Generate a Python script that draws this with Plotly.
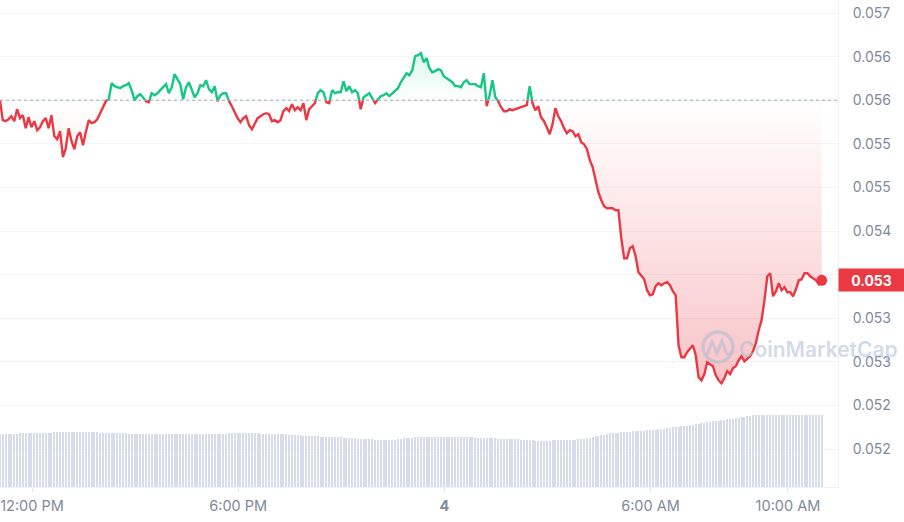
import pandas as pd
import plotly.graph_objects as go

# ---------------- data ----------------
START = "2024-06-03 11:04"
STEP = "5min"

price = [
    0.056000, 0.055771, 0.055759, 0.055782, 0.055816, 0.055759, 0.055897, 0.055794, 0.055828, 0.055679, 0.055805, 0.055690,
    0.055759, 0.055656, 0.055690, 0.055759, 0.055794, 0.055679, 0.055828, 0.055587, 0.055553, 0.055644, 0.055346, 0.055449,
    0.055679, 0.055530, 0.055438, 0.055587, 0.055633, 0.055484, 0.055633, 0.055771, 0.055736, 0.055748, 0.055782, 0.055851,
    0.055931, 0.055989, 0.056011, 0.056195, 0.056161, 0.056149, 0.056138, 0.056161, 0.056172, 0.056195, 0.056115, 0.056000,
    0.056046, 0.056069, 0.056034, 0.055989, 0.055977, 0.056080, 0.056057, 0.056080, 0.056115, 0.056149, 0.056184, 0.056080,
    0.056149, 0.056298, 0.056241, 0.056184, 0.056011, 0.056149, 0.056206, 0.056115, 0.056034, 0.056080, 0.056172, 0.056161,
    0.056229, 0.056126, 0.056092, 0.056161, 0.055989, 0.056057, 0.056080, 0.056080, 0.055989, 0.055931, 0.055862, 0.055794,
    0.055748, 0.055794, 0.055816, 0.055713, 0.055667, 0.055736, 0.055794, 0.055816, 0.055839, 0.055851, 0.055839, 0.055759,
    0.055771, 0.055748, 0.055771, 0.055874, 0.055908, 0.055874, 0.055954, 0.055885, 0.055920, 0.055885, 0.055966, 0.055771,
    0.055897, 0.055931, 0.055966, 0.056080, 0.056115, 0.056092, 0.055977, 0.055966, 0.056115, 0.056080, 0.056092, 0.056092,
    0.056218, 0.056103, 0.056161, 0.056092, 0.056115, 0.056080, 0.055897, 0.056034, 0.056057, 0.056080, 0.056023, 0.055966,
    0.056011, 0.056046, 0.056057, 0.056080, 0.056046, 0.056080, 0.056103, 0.056138, 0.056206, 0.056264, 0.056310, 0.056287,
    0.056344, 0.056505, 0.056516, 0.056539, 0.056436, 0.056482, 0.056367, 0.056321, 0.056333, 0.056356, 0.056344, 0.056275,
    0.056252, 0.056229, 0.056206, 0.056161, 0.056161, 0.056149, 0.056206, 0.056229, 0.056184, 0.056184, 0.056184, 0.056161,
    0.056149, 0.056310, 0.055931, 0.056057, 0.056229, 0.056034, 0.055989, 0.055920, 0.055874, 0.055874, 0.055897, 0.055885,
    0.055897, 0.055908, 0.055920, 0.055931, 0.055943, 0.056161, 0.055966, 0.055885, 0.055931, 0.055805, 0.055759, 0.055690,
    0.055610, 0.055725, 0.055908, 0.055816, 0.055759, 0.055679, 0.055621, 0.055656, 0.055644, 0.055587, 0.055610, 0.055518,
    0.055495, 0.055438, 0.055312, 0.055232, 0.055105, 0.054945, 0.054853, 0.054784, 0.054761, 0.054761, 0.054761, 0.054738,
    0.054738, 0.054417, 0.054188, 0.054188, 0.054302, 0.054325, 0.054211, 0.054027, 0.053993, 0.053947, 0.053821, 0.053763,
    0.053775, 0.053867, 0.053901, 0.053878, 0.053901, 0.053913, 0.053878, 0.053809, 0.053763, 0.053190, 0.053052, 0.053052,
    0.053110, 0.053155, 0.053190, 0.053075, 0.052823, 0.052788, 0.052857, 0.052995, 0.052972, 0.052949, 0.052846, 0.052788,
    0.052754, 0.052811, 0.052892, 0.052857, 0.052926, 0.052949, 0.053018, 0.053064, 0.053006, 0.053041, 0.053064, 0.053121,
    0.053213, 0.053362, 0.053477, 0.053706, 0.053981, 0.054016, 0.053752, 0.053809, 0.053901, 0.053821, 0.053855, 0.053798,
    0.053798, 0.053752, 0.053832, 0.053935, 0.053947, 0.054016, 0.054016, 0.053981, 0.053958, 0.053935, 0.053890, 0.053935,
]

# 24h volume (millions)
volume_m = [
    5.30, 5.30, 5.31, 5.32, 5.33, 5.34, 5.35, 5.36, 5.36, 5.37, 5.38, 5.38,
    5.40, 5.40, 5.41, 5.42, 5.43, 5.44, 5.45, 5.46, 5.48, 5.49, 5.50, 5.50,
    5.50, 5.50, 5.49, 5.49, 5.48, 5.48, 5.47, 5.47, 5.46, 5.46, 5.46, 5.45,
    5.45, 5.45, 5.45, 5.44, 5.44, 5.42, 5.40, 5.38, 5.36, 5.34, 5.32, 5.30,
    5.30, 5.30, 5.30, 5.30, 5.30, 5.30, 5.30, 5.30, 5.30, 5.30, 5.30, 5.30,
    5.30, 5.30, 5.30, 5.30, 5.30, 5.30, 5.30, 5.30, 5.30, 5.30, 5.30, 5.30,
    5.30, 5.30, 5.30, 5.30, 5.30, 5.30, 5.32, 5.35, 5.38, 5.40, 5.40, 5.40,
    5.40, 5.40, 5.40, 5.39, 5.38, 5.37, 5.36, 5.35, 5.34, 5.33, 5.32, 5.31,
    5.30, 5.30, 5.30, 5.28, 5.26, 5.24, 5.22, 5.20, 5.18, 5.16, 5.15, 5.14,
    5.12, 5.10, 5.08, 5.06, 5.05, 5.04, 5.03, 5.02, 5.00, 5.00, 4.98, 4.96,
    4.94, 4.92, 4.90, 4.88, 4.86, 4.84, 4.82, 4.80, 4.78, 4.77, 4.76, 4.74,
    4.72, 4.72, 4.70, 4.70, 4.70, 4.72, 4.75, 4.80, 4.85, 4.88, 4.90, 4.92,
    4.94, 4.96, 4.98, 5.00, 5.02, 5.04, 5.05, 5.05, 5.05, 5.05, 5.05, 5.05,
    5.05, 5.05, 5.05, 5.05, 5.04, 5.03, 5.02, 5.00, 4.98, 4.96, 4.94, 4.92,
    4.90, 4.90, 4.89, 4.88, 4.87, 4.86, 4.85, 4.84, 4.83, 4.83, 4.82, 4.80,
    4.78, 4.76, 4.74, 4.72, 4.70, 4.68, 4.66, 4.65, 4.65, 4.65, 4.65, 4.65,
    4.65, 4.66, 4.67, 4.68, 4.68, 4.69, 4.70, 4.70, 4.72, 4.74, 4.76, 4.78,
    4.82, 4.88, 4.94, 5.00, 5.06, 5.12, 5.18, 5.24, 5.30, 5.36, 5.42, 5.45,
    5.45, 5.47, 5.50, 5.52, 5.55, 5.57, 5.60, 5.60, 5.62, 5.65, 5.68, 5.70,
    5.72, 5.75, 5.78, 5.80, 5.85, 5.90, 5.95, 6.00, 6.02, 6.05, 6.08, 6.10,
    6.15, 6.20, 6.25, 6.30, 6.35, 6.40, 6.45, 6.50, 6.55, 6.60, 6.62, 6.65,
    6.68, 6.72, 6.76, 6.80, 6.85, 6.90, 6.95, 7.00, 7.05, 7.10, 7.15, 7.18,
    7.20, 7.22, 7.23, 7.23, 7.23, 7.23, 7.23, 7.23, 7.23, 7.23, 7.23, 7.23,
    7.23, 7.23, 7.23, 7.22, 7.22, 7.22, 7.22, 7.22, 7.22, 7.22, 7.22, 7.22,
]

y_tick_vals = [0.057, 0.0565, 0.056, 0.0555, 0.055, 0.0545, 0.054, 0.0535, 0.053, 0.0525, 0.052]
y_tick_text = ["0.057", "0.056", "0.056", "0.055", "0.055", "0.054", "", "0.053", "0.053", "0.052", "0.052"]
x_tick_vals = ["2024-06-03 12:00", "2024-06-03 18:00", "2024-06-04 00:00", "2024-06-04 06:00", "2024-06-04 10:00"]
x_tick_text = ["12:00 PM", "6:00 PM", "<b>4</b>", "6:00 AM", "10:00 AM"]
last_label = "0.053"

# ---------------- styling ----------------
GREEN = "#16C784"
RED = "#EA3943"
GREY = "#808A9D"
FONT = "Inter"

times = pd.date_range(START, periods=len(price), freq=STEP)
base = price[0]

# insert baseline crossing points so the line can switch colour exactly at the baseline
tn = times.asi8
aug_t, aug_p = [], []
for i in range(len(price)):
    if i > 0:
        p0, p1 = price[i - 1], price[i]
        if (p0 - base) * (p1 - base) < 0:
            f = (base - p0) / (p1 - p0)
            aug_t.append(pd.Timestamp(int(tn[i - 1] + f * (tn[i] - tn[i - 1]))))
            aug_p.append(base)
    aug_t.append(times[i])
    aug_p.append(price[i])

above = [max(p, base) for p in aug_p]
below = [min(p, base) for p in aug_p]
green_line = [p if p >= base else None for p in aug_p]
red_line = [p if p <= base else None for p in aug_p]
base_line = [base] * len(aug_p)

fig = go.Figure()

# volume bars
fig.add_trace(go.Bar(
    x=times, y=volume_m, yaxis="y2",
    marker=dict(color="#d7dcea", line=dict(width=0)),
    width=5 * 60 * 1000 * 0.36, hoverinfo="skip",
))

# gradient fills
fig.add_trace(go.Scatter(x=aug_t, y=base_line, mode="lines", line=dict(width=0), hoverinfo="skip"))
fig.add_trace(go.Scatter(
    x=aug_t, y=above, mode="lines", line=dict(width=0), fill="tonexty", hoverinfo="skip",
    fillgradient=dict(type="vertical", start=base, stop=max(price),
                      colorscale=[[0, "rgba(22,199,132,0.0)"], [1, "rgba(22,199,132,0.16)"]]),
))
fig.add_trace(go.Scatter(x=aug_t, y=base_line, mode="lines", line=dict(width=0), hoverinfo="skip"))
fig.add_trace(go.Scatter(
    x=aug_t, y=below, mode="lines", line=dict(width=0), fill="tonexty", hoverinfo="skip",
    fillgradient=dict(type="vertical", start=min(price), stop=base,
                      colorscale=[[0, "rgba(234,57,67,0.30)"], [1, "rgba(234,57,67,0.0)"]]),
))

# price line
fig.add_trace(go.Scatter(x=aug_t, y=green_line, mode="lines", line=dict(color=GREEN, width=2.4),
                         connectgaps=False, hoverinfo="skip"))
fig.add_trace(go.Scatter(x=aug_t, y=red_line, mode="lines", line=dict(color=RED, width=2.4),
                         connectgaps=False, hoverinfo="skip"))
fig.add_trace(go.Scatter(x=[times[-1]], y=[price[-1]], mode="markers",
                         marker=dict(color=RED, size=11), hoverinfo="skip"))

# dotted open-price baseline
fig.add_shape(type="line", xref="paper", x0=0, x1=1, yref="y", y0=base, y1=base,
              line=dict(color="#a3a9b5", width=1, dash="dot"))

# watermark
W = 838.0
H = 487.0
def px(x):
    return x / W
def py(y):
    return 1 - y / H
WM = "rgba(172,188,212,0.55)"
fig.add_shape(type="circle", xref="paper", yref="paper",
              x0=px(703), x1=px(733), y0=py(362), y1=py(332),
              line=dict(color=WM, width=3.5))
path = "M {} {} L {} {} L {} {} L {} {} L {} {} Q {} {} {} {}".format(
    px(707), py(355), px(712), py(342), px(717), py(353), px(722), py(341),
    px(726), py(352), px(728), py(357), px(732), py(351))
fig.add_shape(type="path", xref="paper", yref="paper", path=path, line=dict(color=WM, width=3))
fig.add_annotation(xref="paper", yref="paper", x=px(737), y=py(349), xanchor="left", yanchor="middle",
                   text="CoinMarketCap", showarrow=False,
                   font=dict(family=FONT, size=21, color=WM, weight=600))

# last price label
fig.add_annotation(xref="paper", yref="y", x=1.0, y=price[-1], xanchor="left", yanchor="middle",
                   text="<b>" + last_label + "</b>", showarrow=False, bgcolor=RED,
                   width=61, height=18, borderpad=2, align="center",
                   font=dict(family=FONT, size=14, color="white"))

fig.update_layout(
    width=904, height=522,
    margin=dict(l=0, r=66, t=0, b=35, autoexpand=False),
    paper_bgcolor="white", plot_bgcolor="white",
    showlegend=False, bargap=0,
    font=dict(family=FONT, size=14, color=GREY),
    xaxis=dict(
        type="date", automargin=False,
        range=["2024-06-03 11:04:07", "2024-06-04 11:27:26"],
        tickvals=x_tick_vals, ticktext=x_tick_text,
        showgrid=False, zeroline=False,
        showline=True, linecolor="#eff2f5", linewidth=1,
        ticks="outside", ticklen=4, tickcolor="#e3e6ec",
        ticklabelstandoff=2,
        tickfont=dict(family=FONT, size=14.5, color=GREY),
    ),
    yaxis=dict(
        side="right", automargin=False,
        range=[0.0515642, 0.0571491],
        tickvals=y_tick_vals, ticktext=y_tick_text,
        showgrid=True, gridcolor="#f3f4f7", gridwidth=1,
        zeroline=False,
        showline=True, linecolor="#eff2f5", linewidth=1,
        ticks="", ticklabelstandoff=11,
        tickfont=dict(family=FONT, size=14, color=GREY),
    ),
    yaxis2=dict(overlaying="y", range=[0, 48.7], visible=False, automargin=False),
)

fig.write_html("out.html", config={"displayModeBar": False},
               post_script="document.body.style.margin='0px';document.body.style.overflow='hidden';")
